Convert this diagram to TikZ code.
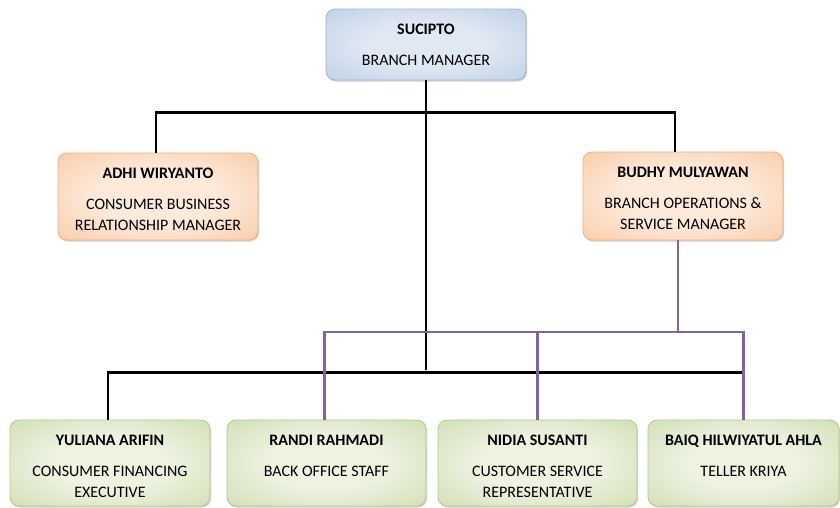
\documentclass[tikz,border=0pt]{standalone}
\usepackage{fontspec}
\setmainfont{Carlito}
\usetikzlibrary{shadows}

% Farben
\definecolor{bluein}{HTML}{E0E8F3}
\definecolor{blueout}{HTML}{A8BFDF}
\definecolor{blueedge}{HTML}{9FB5D6}
\definecolor{orangein}{HTML}{FDEADB}
\definecolor{orangeout}{HTML}{F8B784}
\definecolor{orangeedge}{HTML}{F0AF80}
\definecolor{greenin}{HTML}{EDF2E1}
\definecolor{greenout}{HTML}{BDD294}
\definecolor{greenedge}{HTML}{B3C98B}
\definecolor{linepurple}{HTML}{8064A2}

\pgfdeclareradialshading{blueglow}{\pgfpoint{0bp}{0bp}}{color(0bp)=(bluein); color(15bp)=(bluein); color(52bp)=(blueout); color(72bp)=(blueout)}
\pgfdeclareradialshading{orangeglow}{\pgfpoint{0bp}{0bp}}{color(0bp)=(orangein); color(15bp)=(orangein); color(52bp)=(orangeout); color(72bp)=(orangeout)}
\pgfdeclareradialshading{greenglow}{\pgfpoint{0bp}{0bp}}{color(0bp)=(greenin); color(15bp)=(greenin); color(52bp)=(greenout); color(72bp)=(greenout)}

% Kartentext: [Breite]{Hoehe}{Name}{Jabatan}
\newcommand{\orgcard}[4][200pt]{\parbox[c][#2][t]{#1}{\centering\fontsize{16}{21}\selectfont
	\vspace*{15pt}\textbf{#3}\par\vspace{10pt}#4}}

\tikzset{
	card/.style={shading=#1glow, draw=#1edge, line width=0.8pt, rounded corners=9pt,
		inner sep=0pt, drop shadow={shadow xshift=1pt, shadow yshift=-1.5pt, fill=black, opacity=0.18}},
	orgline/.style={line width=2.6pt, black},
	dualline/.style={line width=2.2pt, linepurple}
}

\begin{document}
\begin{tikzpicture}[x=1pt, y=-1pt]
	\useasboundingbox (0,0) rectangle (840,507);
	
	% Pimpinan
	\node[card=blue] (sucipto) at (426,44.5) {\orgcard{71pt}{SUCIPTO}{BRANCH MANAGER}};
	
	% Manager
	\node[card=orange] (adhi) at (158,196.5) {\orgcard{87pt}{ADHI WIRYANTO}{CONSUMER BUSINESS\\RELATIONSHIP MANAGER}};
	\node[card=orange] (budhy) at (683,196) {\orgcard{88pt}{BUDHY MULYAWAN}{BRANCH OPERATIONS \&\\SERVICE MANAGER}};
	
	% Staff
	\node[card=green] (yuliana) at (110,463) {\orgcard{86pt}{YULIANA ARIFIN}{CONSUMER FINANCING\\EXECUTIVE}};
	\node[card=green] (randi) at (326.5,463) {\orgcard[199pt]{86pt}{RANDI RAHMADI}{BACK OFFICE STAFF}};
	\node[card=green] (nidia) at (537.5,463) {\orgcard[199pt]{86pt}{NIDIA SUSANTI}{CUSTOMER SERVICE\\REPRESENTATIVE}};
	\node[card=green] (baiq) at (743.5,463) {\orgcard[191pt]{86pt}{BAIQ HILWIYATUL AHLA}{TELLER KRIYA}};
	
	% Garis komando
	\draw[orgline] (sucipto.south) -- ++(0,290);
	\draw[orgline] ([xshift=-2pt]adhi.north) -- ++(0,-40) -| ([xshift=-8pt]budhy.north);
	\draw[orgline] ([xshift=-2pt]yuliana.north) -- ++(0,-47) -| (baiq.north);
	
	% Garis koordinasi
	\draw[dualline] ([xshift=-5pt]budhy.south) -- ++(0,93);
	\draw[dualline] ([xshift=-2pt]randi.north) -- ++(0,-88) -| (baiq.north);
	\draw[dualline] (nidia.north) -- ++(0,-88);
\end{tikzpicture}
\end{document}
